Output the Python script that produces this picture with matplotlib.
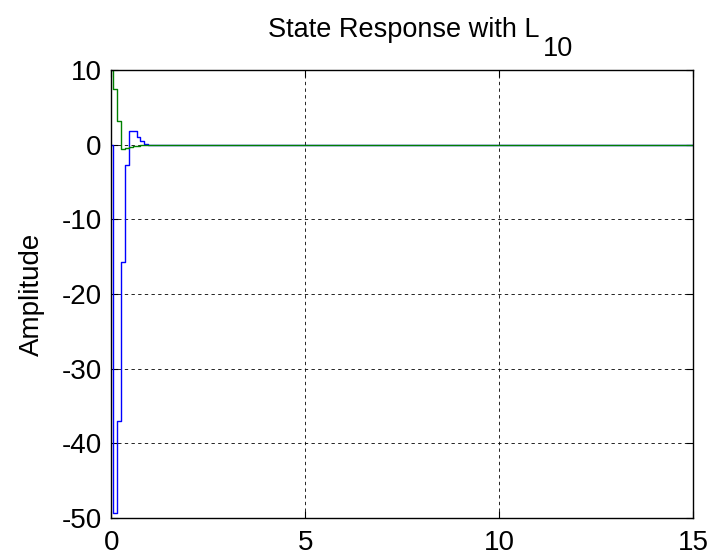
import numpy as np
import matplotlib
matplotlib.use("Agg")
import matplotlib.pyplot as plt

plt.rcParams['font.family'] = ['Liberation Sans', 'DejaVu Sans']
plt.rcParams['axes.unicode_minus'] = False

# Discrete-time initial-condition response, sample time 0.1 s
Ts = 0.1
t_end = 15.0
x1_head = [0.0, -49.4, -37.0, -15.7, -2.7, 1.85, 1.85, 1.05, 0.5, 0.15, -0.07, -0.07]
x2_head = [10.0, 7.5, 3.2, -0.5, -0.45, -0.3, -0.2, -0.1, 0.0]

n = int(round(t_end / Ts)) + 1
t = np.arange(n) * Ts
x1 = np.zeros(n)
x1[:len(x1_head)] = x1_head
x2 = np.zeros(n)
x2[:len(x2_head)] = x2_head

xticks = [0, 5, 10, 15]
yticks = [10, 0, -10, -20, -30, -40, -50]

W, H = 715, 558
fig = plt.figure(figsize=(W / 100, H / 100), dpi=100)
ax = fig.add_axes([0.1557, 0.0720, 0.8135, 0.8020])
ax.set_axisbelow(True)

ax.step(t, x1, where='mid', color=(0, 0, 1), lw=1.0)
ax.step(t, x2, where='mid', color=(0, 0.5, 0), lw=1.0)

ax.set_xlim(0, 15)
ax.set_ylim(-50, 10)
ax.set_xticks(xticks)
ax.set_yticks(yticks)
ax.tick_params(direction='in', length=5, width=0.8, labelsize=20,
               top=True, right=True)
ax.tick_params(axis='x', pad=9)
ax.tick_params(axis='y', pad=7)
ax.grid(True, color='black', linestyle=(0, (4, 4)), linewidth=0.6)
for s in ax.spines.values():
    s.set_linewidth(1.0)

ax.set_ylabel('Amplitude', fontsize=20, labelpad=12)

# Title with a full-height subscript, TeX-interpreter style
main = fig.text(268 / W, 1 - 37 / H, 'State Response with L', fontsize=19.5,
                ha='left', va='baseline')
fig.canvas.draw()
bb = main.get_window_extent()
fig.text((bb.x1 + 3) / W, 1 - 56 / H, '10', fontsize=19.5,
         ha='left', va='baseline')

fig.savefig('out.png', dpi=100)
